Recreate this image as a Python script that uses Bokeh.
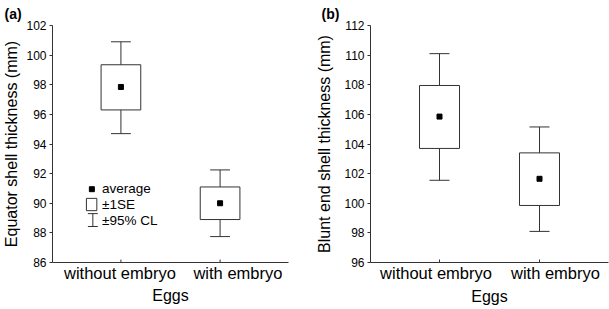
from bokeh.plotting import figure
from bokeh.layouts import row
from bokeh.models import FixedTicker, Label, Title
from bokeh.embed import file_html
from bokeh.resources import INLINE

# ---------------- data ----------------
categories = ["without embryo", "with embryo"]
x_title = "Eggs"

equator_mean = [97.85, 90.0]
equator_se_lo = [96.3, 88.9]
equator_se_hi = [99.35, 91.1]
equator_cl_lo = [94.7, 87.75]
equator_cl_hi = [100.9, 92.25]
equator_ticks = [86, 88, 90, 92, 94, 96, 98, 100, 102]

blunt_mean = [105.85, 101.65]
blunt_se_lo = [103.7, 99.85]
blunt_se_hi = [107.95, 103.4]
blunt_cl_lo = [101.55, 98.1]
blunt_cl_hi = [110.1, 105.15]
blunt_ticks = [96, 98, 100, 102, 104, 106, 108, 110, 112]

legend_labels = ["average", "\u00b11SE", "\u00b195% CL"]

# ---------------- style ----------------
FONT = "Liberation Sans"
LC = "#333333"
X_START, X_END = 0.31, 2.69
BOX_HALF = 0.2
CAP_HALF = 0.1
TICK_LEN_PX = 3


def make_panel(title, title_offset, ylabel, mean, se_lo, se_hi, cl_lo, cl_hi, ticks,
               width, height, bl, br, bt, bb, label_shift, ylab_standoff,
               eggs_standoff, eggs_offset):
    xpos = [i + 1 for i in range(len(categories))]
    p = figure(width=width, height=height, output_backend="svg",
               toolbar_location=None,
               x_range=(X_START, X_END), y_range=(ticks[0], ticks[-1]),
               min_border_left=bl, min_border_right=br,
               min_border_top=bt, min_border_bottom=bb)
    p.outline_line_color = None
    p.xgrid.visible = False
    p.ygrid.visible = False

    # panel letter
    p.title.text = title
    p.title.align = "left"
    p.title.offset = title_offset
    p.title.standoff = 7
    p.title.text_font = FONT
    p.title.text_font_size = "14px"
    p.title.text_font_style = "bold"
    p.title.text_color = "black"

    # boxes (+-1SE)
    p.quad(left=[x - BOX_HALF for x in xpos], right=[x + BOX_HALF for x in xpos],
           bottom=se_lo, top=se_hi, fill_color="white", line_color=LC, line_width=1)
    # whiskers (+-95% CL)
    p.segment(x0=xpos, y0=se_hi, x1=xpos, y1=cl_hi, line_color=LC, line_width=1)
    p.segment(x0=xpos, y0=se_lo, x1=xpos, y1=cl_lo, line_color=LC, line_width=1)
    p.segment(x0=[x - CAP_HALF for x in xpos], y0=cl_hi,
              x1=[x + CAP_HALF for x in xpos], y1=cl_hi, line_color=LC, line_width=1)
    p.segment(x0=[x - CAP_HALF for x in xpos], y0=cl_lo,
              x1=[x + CAP_HALF for x in xpos], y1=cl_lo, line_color=LC, line_width=1)
    # means
    p.scatter(x=xpos, y=mean, marker="square", size=5, color="black")

    # inward category tick marks at the category positions
    fh = height - bt - bb
    yu = (ticks[-1] - ticks[0]) / fh
    p.segment(x0=xpos, y0=[ticks[0]] * len(xpos), x1=xpos,
              y1=[ticks[0] + TICK_LEN_PX * yu] * len(xpos), line_color=LC, line_width=1)

    # x axis with category labels (placed as in the original figure)
    lab_pos = [x + s for x, s in zip(xpos, label_shift)]
    xa = p.xaxis[0]
    xa.ticker = FixedTicker(ticks=lab_pos)
    xa.major_label_overrides = dict(zip(lab_pos, categories))
    xa.minor_tick_line_color = None
    xa.major_tick_line_color = None
    xa.major_tick_in = 0
    xa.major_tick_out = 0
    xa.minor_tick_in = 0
    xa.minor_tick_out = 0
    xa.major_label_standoff = 1
    xa.major_label_text_font = FONT
    xa.major_label_text_font_size = "16.5px"
    xa.major_label_text_color = "black"
    xa.axis_line_color = LC

    # x-axis title
    p.add_layout(Title(text=x_title, align="center", offset=eggs_offset,
                       standoff=eggs_standoff, text_font=FONT, text_font_size="16px",
                       text_font_style="normal", text_color="black"), "below")

    ya = p.yaxis[0]
    ya.ticker = FixedTicker(ticks=ticks)
    ya.minor_tick_line_color = None
    ya.minor_tick_in = 0
    ya.minor_tick_out = 0
    ya.major_tick_in = 0
    ya.major_tick_out = 3
    ya.major_label_standoff = 3
    ya.major_label_text_font = FONT
    ya.major_label_text_font_size = "12px"
    ya.major_label_text_color = "black"
    ya.axis_label = ylabel
    ya.axis_label_text_font = FONT
    ya.axis_label_text_font_size = "16px"
    ya.axis_label_text_font_style = "normal"
    ya.axis_label_text_color = "black"
    ya.axis_label_standoff = ylab_standoff
    ya.axis_line_color = LC
    ya.major_tick_line_color = LC
    return p


pa = make_panel("(a)", -48, "Equator shell thickness (mm)", equator_mean, equator_se_lo,
                equator_se_hi, equator_cl_lo, equator_cl_hi, equator_ticks,
                290, 309, 51, 2, 25, 44, [-0.01, 0.18], 3, 0, 6)
pb = make_panel("(b)", -49, "Blunt end shell thickness (mm)", blunt_mean, blunt_se_lo,
                blunt_se_hi, blunt_cl_lo, blunt_cl_hi, blunt_ticks,
                319, 309, 80, 1, 25, 47, [-0.035, 0.16], 8, 2, 4)

# legend key drawn inside panel (a)
LEG_MARK = (0.707, 90.95)
LEG_BOX = (0.652, 0.757, 89.5, 90.33)
LEG_CL = (0.717, 0.667, 0.767, 88.43, 89.3)
LEG_TEXT_X = 0.81
LEG_TEXT_Y = [91.0, 89.9, 88.83]

pa.scatter(x=[LEG_MARK[0]], y=[LEG_MARK[1]], marker="square", size=5, color="black")
pa.quad(left=[LEG_BOX[0]], right=[LEG_BOX[1]], bottom=[LEG_BOX[2]], top=[LEG_BOX[3]],
        fill_color="white", line_color=LC, line_width=1)
pa.segment(x0=[LEG_CL[0], LEG_CL[1], LEG_CL[1]], y0=[LEG_CL[3], LEG_CL[3], LEG_CL[4]],
           x1=[LEG_CL[0], LEG_CL[2], LEG_CL[2]], y1=[LEG_CL[4], LEG_CL[3], LEG_CL[4]],
           line_color=LC, line_width=1)
for lab, ly in zip(legend_labels, LEG_TEXT_Y):
    pa.add_layout(Label(x=LEG_TEXT_X, y=ly, text=lab, text_font=FONT,
                        text_font_size="13.5px", text_color="black",
                        text_baseline="middle", text_align="left"))

layout = row(pa, pb)
open("out.html", "w").write(file_html(layout, INLINE))
